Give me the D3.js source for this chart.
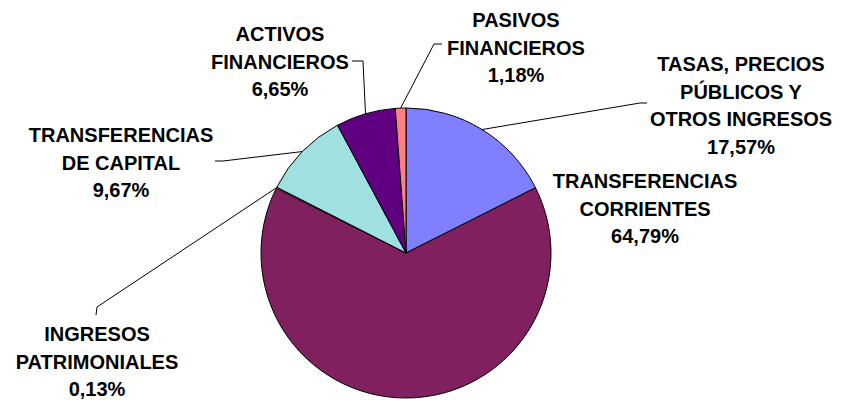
<!DOCTYPE html>
<html lang="es">
<head>
  <meta charset="UTF-8">
  <title>Ingresos</title>
  <script src="https://d3js.org/d3.v7.min.js"></script>
  <style>
    body { margin: 0; background: white; }
    .label { font-family: Arial, "Liberation Sans", sans-serif; font-weight: bold; font-size: 20px; fill: black; }
    .slice { stroke: black; stroke-width: 1px; }
    .leader { fill: none; stroke: black; stroke-width: 1px; }
  </style>
</head>
<body>
<svg id="chart"></svg>
<script>
// data
const categories = [
  "TASAS, PRECIOS\nPÚBLICOS Y\nOTROS INGRESOS",
  "TRANSFERENCIAS\nCORRIENTES",
  "INGRESOS\nPATRIMONIALES",
  "TRANSFERENCIAS\nDE CAPITAL",
  "ACTIVOS\nFINANCIEROS",
  "PASIVOS\nFINANCIEROS"
];
const values = [17.57, 64.79, 0.13, 9.67, 6.65, 1.18];
const colours = ["#8080FF", "#80205F", "#FFFFCC", "#A0E0E0", "#600080", "#FF8080"];

// label placement (center x, first baseline) and leader elbow/end points
const labelPos = [
  [741, 71], [645, 188], [97, 341], [121, 142], [280, 41], [516, 27]
];
const leaders = [
  [[640, 103], [647, 103]],
  null,
  [[97, 307], [96, 315]],
  [[223, 161], [215, 161]],
  [[363, 61], [352, 61]],
  [[434, 44], [442, 44]]
];

const width = 841, height = 400;
const cx = 406, cy = 253, r = 145;
const lineGap = 27.5;

const svg = d3.select("#chart").attr("width", width).attr("height", height);
const g = svg.append("g").attr("transform", `translate(${cx},${cy})`);

const pie = d3.pie().sort(null).value(d => d);
const arcs = pie(values);
const arc = d3.arc().innerRadius(0).outerRadius(r);

g.selectAll(".slice")
  .data(arcs)
  .join("path")
  .attr("class", "slice")
  .attr("d", arc)
  .attr("fill", (d, i) => colours[i]);

// leader lines from the rim to the labels
const line = d3.line();
arcs.forEach((d, i) => {
  if (!leaders[i]) return;
  const mid = (d.startAngle + d.endAngle) / 2;
  const p0 = [cx + r * Math.sin(mid), cy - r * Math.cos(mid)];
  svg.append("path")
    .attr("class", "leader")
    .attr("d", line([p0, leaders[i][0], leaders[i][1]]));
});

const fmt = v => d3.format(".2f")(v).replace(".", ",") + "%";

categories.forEach((c, i) => {
  const lines = c.split("\n").concat([fmt(values[i])]);
  const t = svg.append("text")
    .attr("class", "label")
    .attr("text-anchor", "middle");
  lines.forEach((s, k) => {
    t.append("tspan")
      .attr("x", labelPos[i][0])
      .attr("y", labelPos[i][1] + k * lineGap)
      .text(s);
  });
});
</script>
</body>
</html>
